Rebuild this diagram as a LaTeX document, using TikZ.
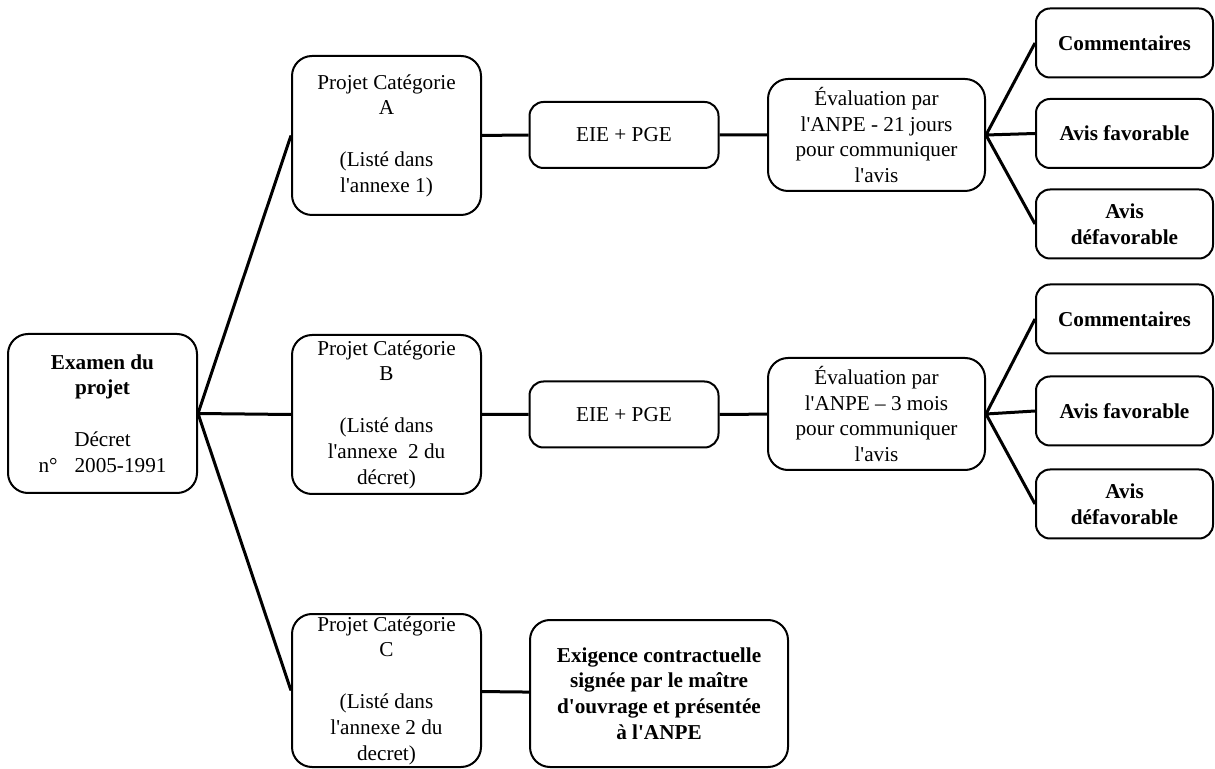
\documentclass[tikz,border=0pt]{standalone}
\usepackage{fontspec}
\setmainfont{Liberation Serif}[Ligatures=TeXOff]
\usetikzlibrary{positioning}

\tikzset{
  box/.style={draw,line width=1pt,rounded corners=10pt,align=center,
    minimum width=94.5pt,minimum height=79.5pt,inner sep=1pt,
    font=\fontsize{10.6}{12.9}\selectfont},
  smallbox/.style={box,rounded corners=7pt,minimum height=33pt},
  evalbox/.style={box,minimum width=108.5pt,minimum height=56pt},
  avisbox/.style={smallbox,minimum width=88.5pt,minimum height=34.5pt,
    font=\fontsize{10.6}{12.9}\selectfont\bfseries},
  link/.style={line width=1.5pt}
}

\begin{document}
\begin{tikzpicture}[x=0.5pt,y=-0.5pt]
\useasboundingbox (0,0) rectangle (1215,769);

\node[box] (exam) at (102.5,413.5) {\textbf{Examen du}\\\textbf{projet}\\[12.9pt]Décret\\n°\hspace{8.5pt}2005-1991};

\node[box] (catA) at (386.5,135.5) {Projet Catégorie\\A\\[12.9pt](Listé dans\\l'annexe 1)};
\node[box] (catB) at (386.5,414.5) {Projet Catégorie\\B\\[12.9pt](Listé dans\\l'annexe\ \ 2 du\\décret)};
\node[box,minimum height=76.5pt,inner ysep=0pt] (catC) at (386.5,690.5) {Projet Catégorie\\C\\[12.9pt](Listé dans\\l'annexe 2 du\\decret)};

\node[smallbox] (eieA) at (624,135) {EIE + PGE};
\node[smallbox] (eieB) at (624,414.5) {EIE + PGE};
\node[box,minimum width=129pt,minimum height=73.5pt,font=\fontsize{10.6}{12.9}\selectfont\bfseries] (exig) at (659,693.5) {Exigence contractuelle\\signée par le maître\\d'ouvrage et présentée\\à l'ANPE};

\node[evalbox] (evalA) at (876.5,135) {Évaluation par\\l'ANPE - 21 jours\\pour communiquer\\l'avis};
\node[evalbox] (evalB) at (876.5,414) {Évaluation par\\l'ANPE – 3 mois\\pour communiquer\\l'avis};

\node[avisbox] (comA) at (1124.5,43) {Commentaires};
\node[avisbox] (favA) at (1124.5,133.5) {Avis favorable};
\node[avisbox] (defA) at (1124.5,224) {Avis\\défavorable};
\node[avisbox] (comB) at (1124.5,319) {Commentaires};
\node[avisbox] (favB) at (1124.5,411) {Avis favorable};
\node[avisbox] (defB) at (1124.5,504) {Avis\\défavorable};

\draw[link] (exam.east)--(catA.west) (exam.east)--(catB.west) (exam.east)--(catC.west);
\draw[link] (catA)--(eieA) (eieA)--(evalA) (catB)--(eieB) (eieB)--(evalB) (catC)--(exig);
\draw[link] (evalA.east)--(comA.west) (evalA.east)--(favA.west) (evalA.east)--(defA.west);
\draw[link] (evalB.east)--(comB.west) (evalB.east)--(favB.west) (evalB.east)--(defB.west);
\end{tikzpicture}
\end{document}
